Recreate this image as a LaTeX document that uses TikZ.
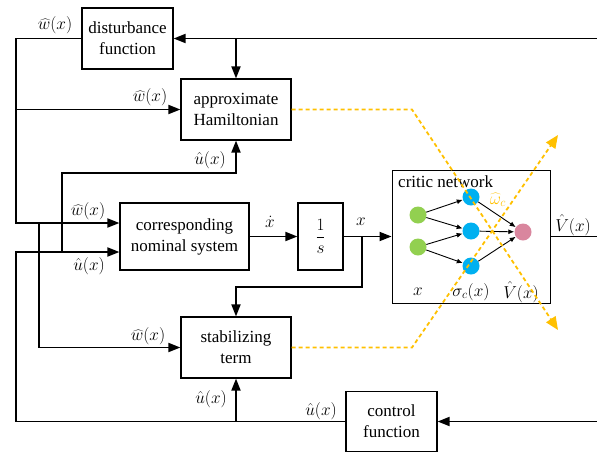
\documentclass[tikz,border=0pt]{standalone}
\usepackage{fontspec}
\setmainfont{Liberation Serif}
\usetikzlibrary{arrows.meta}
\definecolor{NNgold}{HTML}{FFC000}
\definecolor{NNgreen}{HTML}{92D050}
\definecolor{NNblue}{HTML}{00B0F0}
\definecolor{NNpink}{HTML}{D9869E}

\begin{document}
\begin{tikzpicture}[x=1pt, y=-1pt,
      every node/.style={font=\fontsize{17}{21}\selectfont},
      block/.style={draw, line width=1.2pt, align=center, inner sep=0pt},
      sig/.style={line width=1.8pt},
      sigarr/.style={sig, -{Triangle[length=12pt,width=9pt]}},
      update/.style={NNgold, line width=1.8pt, dash pattern=on 4pt off 3pt, -{Triangle[length=13pt,width=11pt]}},
      neuron/.style={circle, minimum size=17pt, inner sep=0pt},
      weight/.style={line width=0.9pt, -{Latex[length=6pt,width=5pt]}}]
   \useasboundingbox (0,0) rectangle (597,451);

   % blocks
   \node[block, minimum width=91pt, minimum height=61pt] (dist) at (127.5,38.5) {disturbance\\function};
   \node[block, minimum width=110pt, minimum height=61pt] (ham) at (236,109.5) {approximate\\Hamiltonian};
   \node[block, minimum width=129pt, minimum height=67pt] (nom) at (184.5,236.5) {corresponding\\nominal system};
   \node[block, minimum width=45pt, minimum height=67pt] (integ) at (320.5,236.5) {$\displaystyle\frac{1}{s}$};
   \node[block, line width=0.9pt, minimum width=158pt, minimum height=133pt] (critic) at (471,236.5) {};
   \node[block, minimum width=110pt, minimum height=61pt] (stab) at (236,347.5) {stabilizing\\term};
   \node[block, minimum width=91pt, minimum height=60pt] (ctrl) at (391.5,421.5) {control\\function};

   % critic network inside
   \node[anchor=base west, inner sep=0pt] (ctitle) at (398,187) {critic network};
   \node[neuron, fill=NNgreen] (in1) at (418,215) {};
   \node[neuron, fill=NNgreen] (in2) at (418,247) {};
   \node[neuron, fill=NNblue] (hid1) at (471,197) {};
   \node[neuron, fill=NNblue] (hid2) at (471,231) {};
   \node[neuron, fill=NNblue] (hid3) at (471,266) {};
   \node[neuron, fill=NNpink] (out) at (523,232) {};
   \foreach \a/\b in {in1/hid1, in1/hid2, in2/hid2, in2/hid3, hid1/out, hid2/out, hid3/out}
      \draw[weight] (\a) -- (\b);
   \node (lin) at (418,292) {$x$};
   \node (lhid) at (471,292) {$\sigma_c(x)$};
   \node (lout) at (521,292) {$\hat{V}(x)$};
   \node[text=NNgold] (lwc) at (498,200) {$\widehat{\omega}_c$};

   % wiring points
   \coordinate (topR) at (597,38.5);
   \coordinate (outR) at (597,236.5);
   \coordinate (botR) at (597,421.5);
   \coordinate (railA) at (16,0);
   \coordinate (railB) at (39,0);
   \coordinate (uTop) at (62,173);
   \coordinate (xfb) at (362,287);
   \coordinate (nomw) at ([yshift=13.5pt]nom.west);
   \coordinate (nomu) at ([yshift=-15.5pt]nom.west);

   % signal lines
   \draw[sigarr] (topR) -- (dist.east);
   \draw[sigarr] (ham.north |- topR) -- (ham.north);
   \draw[sigarr] (dist.west) -| (railA |- nomw) -- (nomw);
   \draw[sigarr] (railA |- ham.west) -- (ham.west);
   \draw[sigarr] (railB |- nomw) |- (stab.west);
   \draw[sigarr] (ctrl.west) -| (railA |- nomu) -- (nomu);
   \draw[sigarr] (uTop |- nomu) -- (uTop) -| (ham.south);
   \draw[sigarr] (stab.south |- ctrl.west) -- (stab.south);
   \draw[sigarr] (nom.east) -- (integ.west);
   \draw[sigarr] (integ.east) -- (critic.west);
   \draw[sigarr] (xfb |- integ.east) -- (xfb) -| (stab.north);
   \draw[sig] (critic.east) -- (outR);
   \draw[sigarr] (botR) -- (ctrl.east);

   % signal labels
   \node (lwd) at (55,25) {$\widehat{w}(x)$};
   \node (lwh) at (150,97) {$\widehat{w}(x)$};
   \node (lwn) at (88,211) {$\widehat{w}(x)$};
   \node (lun) at (89,266) {$\hat{u}(x)$};
   \node (luh) at (210,160) {$\hat{u}(x)$};
   \node (lws) at (148,336) {$\widehat{w}(x)$};
   \node (lus) at (211,399) {$\hat{u}(x)$};
   \node (luc) at (321,411) {$\hat{u}(x)$};
   \node (ldx) at (270,222) {$\dot{x}$};
   \node (lx) at (361,222) {$x$};
   \node (lV) at (573,225) {$\hat{V}(x)$};

   % weight update paths
   \coordinate (bendH) at (412,109.5);
   \coordinate (tipH) at (558,330);
   \coordinate (bendS) at (412,347.5);
   \coordinate (tipS) at (558,135);
   \draw[update] (ham.east) -- (bendH) -- (tipH);
   \draw[update] (stab.east) -- (bendS) -- (tipS);
\end{tikzpicture}
\end{document}
